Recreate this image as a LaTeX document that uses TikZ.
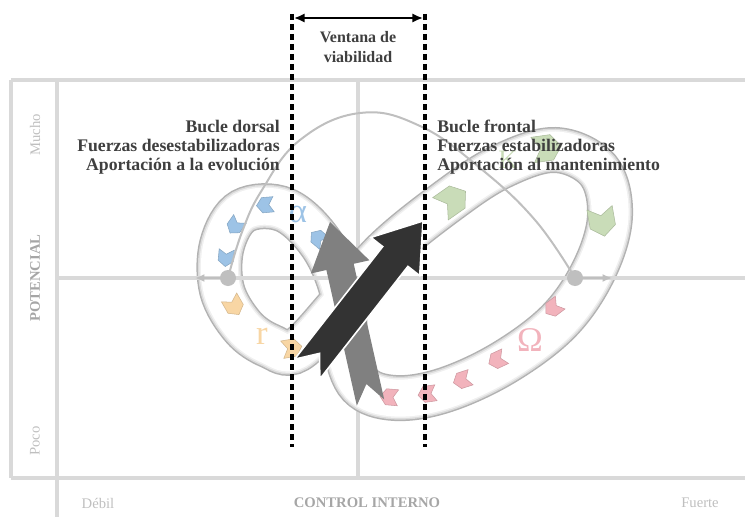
\documentclass[tikz,border=0pt]{standalone}
\usepackage{fontspec}
\setmainfont{Liberation Serif}
\usetikzlibrary{arrows.meta,positioning,calc}
\definecolor{framegray}{HTML}{D9D9D9}
\definecolor{labelgray}{HTML}{BFBFBF}
\definecolor{titlegray}{HTML}{A6A6A6}
\definecolor{textdark}{HTML}{3F3F3F}
\definecolor{chevA}{HTML}{9DC3E6}
\definecolor{chevR}{HTML}{F8D6A4}
\definecolor{chevO}{HTML}{F2B3BC}
\definecolor{chevK}{HTML}{C9DCB8}
\definecolor{darkarrow}{HTML}{333333}
\definecolor{grayarrow}{HTML}{808080}
\tikzset{
  frame/.style={draw=framegray, line width=3pt},
  lbl/.style={font=\fontsize{11}{13}\selectfont, text=labelgray, inner sep=0pt},
  axislbl/.style={font=\fontsize{11}{13}\selectfont\bfseries, text=titlegray, inner sep=0pt},
  loop/.style={font=\fontsize{13.3}{14.3}\selectfont\bfseries, text=textdark, inner sep=0pt},
  window/.style={draw=black, line width=2.4pt, dash pattern=on 4.5pt off 3pt},
  arcline/.style={draw=labelgray, line width=1.5pt},
  ball/.style={circle, fill=labelgray, minimum size=12pt, inner sep=0pt},
  greek/.style={font=\fontsize{26}{26}\selectfont, inner sep=0pt},
  chev/.pic={\path[pic actions] (-9,-8) -- (3,-8) -- (9,0) -- (3,8) -- (-9,8) -- (-4,0) -- cycle;}
}
\begin{document}
\begin{tikzpicture}[x=0.75pt, y=-0.75pt]
  \useasboundingbox (0,0) rectangle (745,517);

  % frame
  \draw[frame] (11,80) -- (745,80);
  \draw[frame] (11,80) -- (11,478);
  \draw[frame] (57,80) -- (57,517);
  \draw[frame] (11,478) -- (745,478);
  \draw[frame] (358,80) -- (358,478);

  % figure-eight band
  \foreach \w/\c in {46/black!30, 43/black!14, 40/black!6, 37/white}
    \draw[line width=\w*0.75pt, draw=\c] plot[smooth cycle, tension=0.6] coordinates {(297,350) (340,305) (385,252) (445,203) (500,167) (555,150) (598,170) (610,215) (595,268) (560,320) (505,362) (445,390) (395,398) (360,385) (345,345) (343,295) (322,245) (285,210) (243,211) (222,245) (222,290) (243,327) (270,346)};

  \draw[frame] (57,278) -- (745,278);

  % chevrons along the loops
  \foreach \x/\y/\a in {318/238/140, 265/205/185, 235/226/235, 226/258/265}
    \pic[fill=chevA, draw=chevA!85!black, rotate=\a, scale=0.95] at (\x,\y) {chev};
  \foreach \x/\y/\a in {234/306/300, 292/348/10}
    \pic[fill=chevR, draw=chevR!85!black, rotate=\a, scale=1.1] at (\x,\y) {chev};
  \foreach \x/\y/\a in {553/308/217, 497/360/205, 462/380/198, 427/394/188, 389/397/175}
    \pic[fill=chevO, draw=chevO!85!black, rotate=\a] at (\x,\y) {chev};
  \foreach \x/\y/\a/\s in {453/200/35/1.7, 547/148/8/1.6, 602/222/280/1.6}
    \pic[fill=chevK, draw=chevK!85!black, rotate=\a, scale=\s] at (\x,\y) {chev};

  \node[greek, text=chevA] (alpha) at (298,214) {α};
  \node[greek, text=chevR] (rlet) at (262,336) {r};
  \node[greek, text=chevO] (omega) at (530,340) {Ω};
  \node[greek, text=chevK, font=\fontsize{20}{20}\selectfont] (klet) at (508,160) {K};

  % potential curve and balls
  \draw[arcline] plot[smooth, tension=0.7] coordinates {(228,278) (242,232) (262,190) (300,140) (360,113) (420,126) (480,168) (535,220) (575,278)};
  \node[ball] (ballL) at (228,278) {};
  \node[ball] (ballR) at (575,278) {};
  \coordinate (tipL) at (195,278);
  \coordinate (tipR) at (612,278);
  \draw[-{Latex[length=7pt,width=6pt]}, draw=labelgray, line width=1.5pt] (ballL) -- (tipL);
  \draw[-{Latex[length=7pt,width=6pt]}, draw=labelgray, line width=1.5pt] (ballR) -- (tipR);

  % big arrows
  \fill[grayarrow] (330,222) -- (369.4,260.3) -- (353.7,263.8) -- (384.2,399.5) -- (366.4,384)
    -- (356.8,405.7) -- (326.4,270) -- (310.8,273.5) -- cycle;
  \filldraw[fill=darkarrow, draw=white, line width=1.2pt] (423,221) -- (419.7,275.6) -- (407.9,266.4)
    -- (319.8,379) -- (319.5,353.4) -- (294.6,359.2) -- (382.7,246.6) -- (370.9,237.4) -- cycle;

  % viability window
  \coordinate (winLtop) at (292,14);
  \coordinate (winLbot) at (292,447);
  \coordinate (winRtop) at (425,14);
  \coordinate (winRbot) at (425,447);
  \draw[window] (winLtop) -- (winLbot);
  \draw[window] (winRtop) -- (winRbot);
  \coordinate (spanL) at (294,18);
  \coordinate (spanR) at (423,18);
  \draw[{Latex[length=8pt,width=7pt]}-{Latex[length=8pt,width=7pt]}, line width=1.5pt] (spanL) -- (spanR);
  \node[loop, font=\fontsize{12}{14.3}\selectfont\bfseries, align=center] (ventana) at (358,47) {Ventana de\\viabilidad};

  % loop texts
  \node[loop, anchor=east, align=right] (dorsal) at (280,147) {Bucle dorsal\\Fuerzas desestabilizadoras\\Aportación a la evolución};
  \node[loop, anchor=west, align=left] (frontal) at (437,147) {Bucle frontal\\Fuerzas estabilizadoras\\Aportación al mantenimiento};

  % axis labels
  \node[lbl, rotate=90] (mucho) at (35,135) {Mucho};
  \node[axislbl, rotate=90] (potencial) at (35,278) {POTENCIAL};
  \node[lbl, rotate=90] (poco) at (35,441) {Poco};
  \node[lbl] (debil) at (98,503) {Débil};
  \node[axislbl] (control) at (367,503) {CONTROL INTERNO};
  \node[lbl] (fuerte) at (700,503) {Fuerte};
\end{tikzpicture}
\end{document}
